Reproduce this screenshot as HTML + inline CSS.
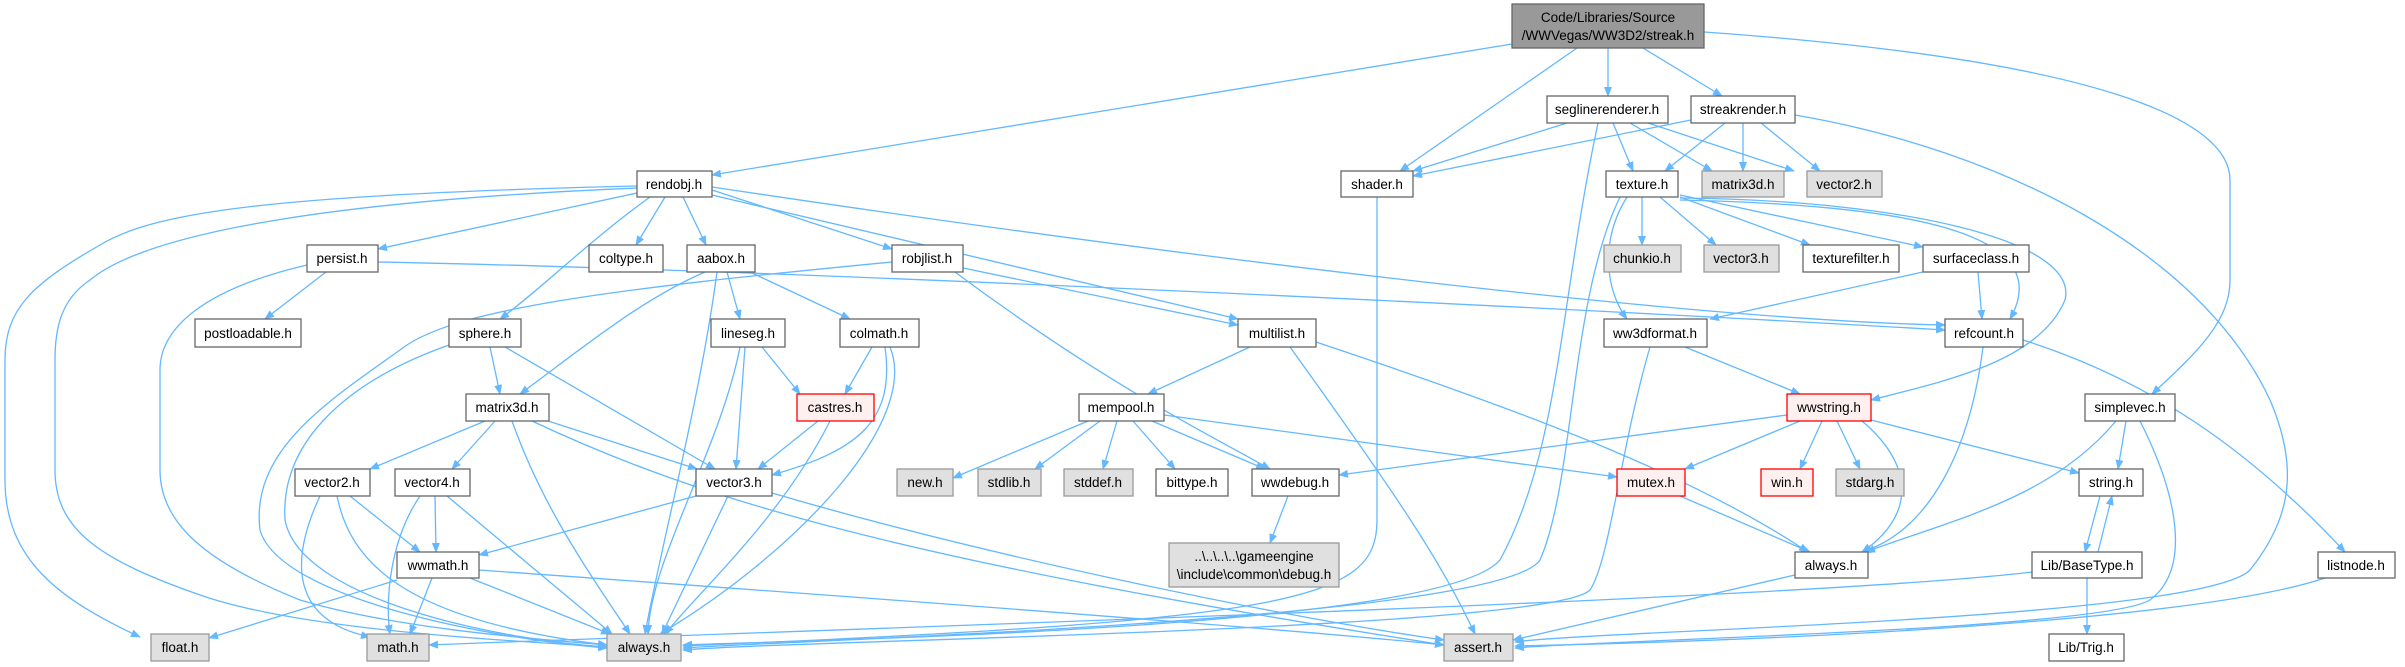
<!DOCTYPE html>
<html><head><meta charset="utf-8"><style>
html,body{margin:0;padding:0;background:#fff;}
svg{display:block;}
text{font-family:"Liberation Sans",sans-serif;font-size:13.5px;fill:#000;text-anchor:middle;}
.e{fill:none;stroke:#63b8ff;stroke-width:1.3;marker-end:url(#a);}
.w{fill:#fff;stroke:#666;stroke-width:1.3;}
.g{fill:#e0e0e0;stroke:#999;stroke-width:1.3;}
.r{fill:#fff0f0;stroke:#f00;stroke-width:1.3;}
.k{fill:#999;stroke:#666;stroke-width:1.3;}
</style></head><body>
<svg width="2405" height="667" viewBox="0 0 2405 667" xmlns="http://www.w3.org/2000/svg">
<defs><marker id="a" markerWidth="10" markerHeight="8" refX="9" refY="4" orient="auto" markerUnits="userSpaceOnUse"><path d="M0,0 L10,4 L0,8 z" fill="#63b8ff"/></marker></defs>
<g>
<path class="e" d="M1512,44 L712,175"/>
<path class="e" d="M1577,48 L1400,171"/>
<path class="e" d="M1608,48 L1608,96"/>
<path class="e" d="M1643,48 L1722,96"/>
<path class="e" d="M1704,32 C2100,60 2230,120 2230,180 L2230,280 C2230,320 2200,350 2152,394"/>
<path class="e" d="M1567,123 L1413,171"/>
<path class="e" d="M1691,120 L1413,176"/>
<path class="e" d="M1613,123 L1633,171"/>
<path class="e" d="M1630,123 L1712,171"/>
<path class="e" d="M1648,123 L1794,171"/>
<path class="e" d="M1598,123 C1560,300 1560,450 1500,560 C1440,630 800,640 683,645"/>
<path class="e" d="M1725,123 L1665,171"/>
<path class="e" d="M1743,123 L1743,171"/>
<path class="e" d="M1761,123 L1820,171"/>
<path class="e" d="M1795,115 C2000,150 2200,250 2270,400 C2300,470 2290,520 2250,570 C2200,620 1600,630 1515,642"/>
<path class="e" d="M1642,197 L1642,245"/>
<path class="e" d="M1660,197 L1716,245"/>
<path class="e" d="M1680,197 L1810,245"/>
<path class="e" d="M1680,195 L1923,247"/>
<path class="e" d="M1680,200 C1900,205 2060,230 2010,319"/>
<path class="e" d="M1680,198 C1900,200 2080,240 2065,300 C2040,360 1950,380 1871,400"/>
<path class="e" d="M1627,197 C1600,240 1605,290 1627,319"/>
<path class="e" d="M1620,197 C1570,300 1575,480 1540,560 C1500,620 800,640 683,648"/>
<path class="e" d="M1923,272 L1710,319"/>
<path class="e" d="M1978,272 L1982,319"/>
<path class="e" d="M1685,347 L1800,394"/>
<path class="e" d="M1650,347 C1620,450 1610,560 1590,590 C1550,630 800,640 683,650"/>
<path class="e" d="M1983,347 C1970,450 1930,530 1862,552"/>
<path class="e" d="M2023,340 C2150,380 2250,450 2345,552"/>
<path class="e" d="M1787,415 L1339,475"/>
<path class="e" d="M1800,421 L1685,469"/>
<path class="e" d="M1822,421 L1800,469"/>
<path class="e" d="M1837,421 L1860,469"/>
<path class="e" d="M1862,421 C1920,470 1910,520 1862,552"/>
<path class="e" d="M1871,420 L2079,473"/>
<path class="e" d="M1680,496 L1810,552"/>
<path class="e" d="M2116,421 C2050,500 1950,520 1866,552"/>
<path class="e" d="M2126,421 L2118,469"/>
<path class="e" d="M2140,421 C2180,500 2190,570 2150,600 C2100,630 1600,640 1515,648"/>
<path class="e" d="M2100,496 L2085,552"/>
<path class="e" d="M2098,552 L2112,496"/>
<path class="e" d="M2087,578 L2087,634"/>
<path class="e" d="M2032,572 C1800,600 800,630 429,645"/>
<path class="e" d="M2325,578 C2200,620 1800,640 1515,646"/>
<path class="e" d="M1795,575 L1513,640"/>
<path class="e" d="M637,193 L378,249"/>
<path class="e" d="M665,197 L636,245"/>
<path class="e" d="M683,197 L706,245"/>
<path class="e" d="M712,190 L892,249"/>
<path class="e" d="M712,195 L1238,319"/>
<path class="e" d="M712,187 C1200,260 1700,320 1945,325"/>
<path class="e" d="M650,197 C590,240 540,290 500,319"/>
<path class="e" d="M637,186 C250,195 150,215 100,245 C30,285 5,310 5,360 L5,480 C5,560 60,600 140,637"/>
<path class="e" d="M637,188 C350,200 150,230 90,280 C60,300 55,330 55,360 L55,470 C55,530 100,560 200,595 C300,630 500,640 607,647"/>
<path class="e" d="M326,272 L265,319"/>
<path class="e" d="M307,265 C200,290 160,330 160,370 L160,470 C160,520 200,560 300,600 C400,630 550,640 607,645"/>
<path class="e" d="M378,262 C800,270 1600,310 1945,330"/>
<path class="e" d="M727,272 L740,319"/>
<path class="e" d="M750,272 L850,319"/>
<path class="e" d="M705,272 C640,300 580,350 520,394"/>
<path class="e" d="M717,272 C700,400 660,550 645,634"/>
<path class="e" d="M892,262 C600,290 450,310 400,350 C330,400 250,450 260,530 C280,600 500,640 607,648"/>
<path class="e" d="M963,268 L1238,325"/>
<path class="e" d="M955,272 C1100,380 1200,430 1270,469"/>
<path class="e" d="M490,347 L500,394"/>
<path class="e" d="M505,347 L715,469"/>
<path class="e" d="M449,345 C350,380 280,440 285,520 C300,600 500,640 607,647"/>
<path class="e" d="M762,347 L800,394"/>
<path class="e" d="M745,347 L736,469"/>
<path class="e" d="M740,347 C720,450 650,560 648,634"/>
<path class="e" d="M872,347 L845,394"/>
<path class="e" d="M885,347 C895,420 860,450 772,475"/>
<path class="e" d="M890,347 C920,420 800,550 660,634"/>
<path class="e" d="M818,421 L758,469"/>
<path class="e" d="M830,421 C780,520 700,590 665,634"/>
<path class="e" d="M485,421 L370,469"/>
<path class="e" d="M495,421 L452,469"/>
<path class="e" d="M548,421 L697,469"/>
<path class="e" d="M512,421 C540,500 580,560 630,634"/>
<path class="e" d="M532,421 C700,500 900,560 1444,645"/>
<path class="e" d="M350,496 L420,552"/>
<path class="e" d="M320,496 C290,560 290,620 370,637"/>
<path class="e" d="M337,496 C350,560 400,620 607,645"/>
<path class="e" d="M435,496 L436,552"/>
<path class="e" d="M420,496 C390,540 385,600 390,634"/>
<path class="e" d="M447,496 L612,634"/>
<path class="e" d="M696,496 L479,555"/>
<path class="e" d="M728,496 L662,634"/>
<path class="e" d="M772,493 C1000,560 1300,620 1444,640"/>
<path class="e" d="M397,580 L209,638"/>
<path class="e" d="M432,578 L410,634"/>
<path class="e" d="M470,578 L610,634"/>
<path class="e" d="M479,570 C900,600 1300,630 1444,645"/>
<path class="e" d="M1250,347 L1148,394"/>
<path class="e" d="M1290,347 C1400,500 1440,560 1475,634"/>
<path class="e" d="M1316,342 C1550,420 1700,480 1808,552"/>
<path class="e" d="M1088,421 L953,478"/>
<path class="e" d="M1100,421 L1035,469"/>
<path class="e" d="M1117,421 L1103,469"/>
<path class="e" d="M1133,421 L1175,469"/>
<path class="e" d="M1152,421 L1265,469"/>
<path class="e" d="M1164,415 L1617,477"/>
<path class="e" d="M1288,496 L1270,543"/>
<path class="e" d="M1377,197 L1377,520 C1377,600 1300,620 683,646"/>
</g>
<g>
<rect class="k" x="1512" y="4" width="192" height="44"/><text x="1608" y="22">Code/Libraries/Source</text><text x="1608" y="40">/WWVegas/WW3D2/streak.h</text>
<rect class="w" x="1547" y="96" width="121" height="27"/><text x="1607" y="114">seglinerenderer.h</text>
<rect class="w" x="1691" y="96" width="104" height="27"/><text x="1743" y="114">streakrender.h</text>
<rect class="w" x="637" y="171" width="75" height="26"/><text x="674" y="189">rendobj.h</text>
<rect class="w" x="1341" y="171" width="72" height="26"/><text x="1377" y="189">shader.h</text>
<rect class="w" x="1606" y="171" width="72" height="26"/><text x="1642" y="189">texture.h</text>
<rect class="g" x="1702" y="171" width="82" height="26"/><text x="1743" y="189">matrix3d.h</text>
<rect class="g" x="1807" y="171" width="75" height="26"/><text x="1844" y="189">vector2.h</text>
<rect class="w" x="307" y="245" width="71" height="27"/><text x="342" y="263">persist.h</text>
<rect class="w" x="589" y="245" width="74" height="27"/><text x="626" y="263">coltype.h</text>
<rect class="w" x="687" y="245" width="68" height="27"/><text x="721" y="263">aabox.h</text>
<rect class="w" x="892" y="245" width="71" height="27"/><text x="927" y="263">robjlist.h</text>
<rect class="g" x="1604" y="245" width="77" height="27"/><text x="1642" y="263">chunkio.h</text>
<rect class="g" x="1704" y="245" width="75" height="27"/><text x="1741" y="263">vector3.h</text>
<rect class="w" x="1803" y="245" width="96" height="27"/><text x="1851" y="263">texturefilter.h</text>
<rect class="w" x="1923" y="245" width="106" height="27"/><text x="1976" y="263">surfaceclass.h</text>
<rect class="w" x="195" y="319" width="106" height="28"/><text x="248" y="338">postloadable.h</text>
<rect class="w" x="449" y="319" width="72" height="28"/><text x="485" y="338">sphere.h</text>
<rect class="w" x="711" y="319" width="74" height="28"/><text x="748" y="338">lineseg.h</text>
<rect class="w" x="840" y="319" width="79" height="28"/><text x="879" y="338">colmath.h</text>
<rect class="w" x="1238" y="319" width="78" height="28"/><text x="1277" y="338">multilist.h</text>
<rect class="w" x="1604" y="319" width="103" height="28"/><text x="1655" y="338">ww3dformat.h</text>
<rect class="w" x="1945" y="319" width="78" height="28"/><text x="1984" y="338">refcount.h</text>
<rect class="w" x="466" y="394" width="83" height="27"/><text x="507" y="412">matrix3d.h</text>
<rect class="r" x="797" y="394" width="77" height="27"/><text x="835" y="412">castres.h</text>
<rect class="w" x="1079" y="394" width="85" height="27"/><text x="1121" y="412">mempool.h</text>
<rect class="r" x="1787" y="394" width="84" height="27"/><text x="1829" y="412">wwstring.h</text>
<rect class="w" x="2085" y="394" width="90" height="27"/><text x="2130" y="412">simplevec.h</text>
<rect class="w" x="295" y="469" width="75" height="27"/><text x="332" y="487">vector2.h</text>
<rect class="w" x="395" y="469" width="75" height="27"/><text x="432" y="487">vector4.h</text>
<rect class="w" x="696" y="469" width="76" height="27"/><text x="734" y="487">vector3.h</text>
<rect class="g" x="897" y="469" width="56" height="27"/><text x="925" y="487">new.h</text>
<rect class="g" x="978" y="469" width="63" height="27"/><text x="1009" y="487">stdlib.h</text>
<rect class="g" x="1064" y="469" width="69" height="27"/><text x="1098" y="487">stddef.h</text>
<rect class="w" x="1156" y="469" width="72" height="27"/><text x="1192" y="487">bittype.h</text>
<rect class="w" x="1252" y="469" width="87" height="27"/><text x="1295" y="487">wwdebug.h</text>
<rect class="r" x="1617" y="469" width="68" height="27"/><text x="1651" y="487">mutex.h</text>
<rect class="r" x="1761" y="469" width="52" height="27"/><text x="1787" y="487">win.h</text>
<rect class="g" x="1836" y="469" width="68" height="27"/><text x="1870" y="487">stdarg.h</text>
<rect class="w" x="2079" y="469" width="64" height="27"/><text x="2111" y="487">string.h</text>
<rect class="g" x="1169" y="543" width="170" height="44"/><text x="1254" y="561">..\..\..\..\gameengine</text><text x="1254" y="579">\include\common\debug.h</text>
<rect class="w" x="397" y="552" width="82" height="26"/><text x="438" y="570">wwmath.h</text>
<rect class="w" x="1795" y="552" width="73" height="26"/><text x="1831" y="570">always.h</text>
<rect class="w" x="2032" y="552" width="110" height="26"/><text x="2087" y="570">Lib/BaseType.h</text>
<rect class="w" x="2318" y="552" width="77" height="26"/><text x="2356" y="570">listnode.h</text>
<rect class="g" x="151" y="634" width="58" height="27"/><text x="180" y="652">float.h</text>
<rect class="g" x="367" y="634" width="62" height="27"/><text x="398" y="652">math.h</text>
<rect class="g" x="607" y="634" width="74" height="27"/><text x="644" y="652">always.h</text>
<rect class="g" x="1444" y="634" width="69" height="27"/><text x="1478" y="652">assert.h</text>
<rect class="w" x="2049" y="634" width="75" height="27"/><text x="2086" y="652">Lib/Trig.h</text>
</g>
</svg>
</body></html>
